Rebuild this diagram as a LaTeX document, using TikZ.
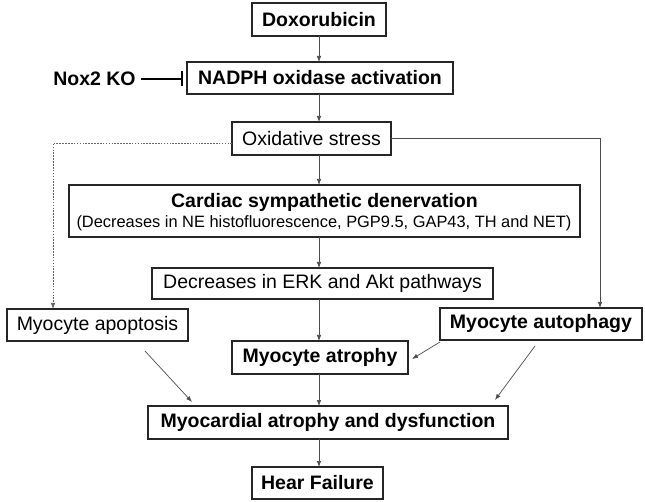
\documentclass[tikz,border=0pt]{standalone}
\usepackage{fontspec}
\setmainfont{Liberation Sans}
\usetikzlibrary{arrows.meta}
\begin{document}
\begin{tikzpicture}[x=1pt,y=-1pt,
  box/.style={draw=black!85,line width=1.2pt,inner sep=0pt,outer sep=0pt},
  bt/.style={font=\fontsize{19.5}{22}\selectfont\bfseries},
  rt/.style={font=\fontsize{19.5}{22}\selectfont},
  st/.style={font=\fontsize{16.4}{19}\selectfont},
  arr/.style={draw=black!70,line width=0.7pt,-{Latex[length=6pt,width=4.5pt]}},
  dotl/.style={draw=black!60,line width=0.7pt,dash pattern=on 1.6pt off 1.3pt,-{Latex[length=6pt,width=4.5pt]}},
  inh/.style={draw=black,line width=1.3pt,-{Bar[width=15pt,line width=1.6pt]}}]
\useasboundingbox (0,0) rectangle (645,502);

\node[box,bt,minimum width=134pt,minimum height=33pt] (dox) at (319,19.5) {Doxorubicin};
\node[box,bt,minimum width=266pt,minimum height=32pt] (nadph) at (320,78) {NADPH oxidase activation};
\node[bt,inner sep=0pt] (nox) at (94.5,79) {Nox2 KO};
\node[box,rt,minimum width=159pt,minimum height=33pt] (ox) at (311.5,138.5) {Oxidative stress};
\node[box,minimum width=511pt,minimum height=52pt] (card) at (324.5,211) {};
\node[bt,inner sep=0pt] (cardt) at (324.5,202) {Cardiac sympathetic denervation};
\node[st,inner sep=0pt] (cards) at (324,223) {(Decreases in NE histofluorescence, PGP9.5, GAP43, TH and NET)};
\node[box,rt,minimum width=341pt,minimum height=31pt] (erk) at (322.5,283.5) {Decreases in ERK and Akt pathways};
\node[box,rt,minimum width=181pt,minimum height=32pt] (apop) at (97.5,325) {Myocyte apoptosis};
\node[box,bt,minimum width=202pt,minimum height=32pt] (auto) at (541,324) {Myocyte autophagy};
\node[box,bt,minimum width=176pt,minimum height=33pt] (atro) at (320,357.5) {Myocyte atrophy};
\node[box,bt,minimum width=360pt,minimum height=33pt] (myo) at (328,422.5) {Myocardial atrophy and dysfunction};
\node[box,bt,minimum width=131pt,minimum height=32pt] (hf) at (317.5,483) {Hear Failure};

\coordinate (vx) at (319,0);
\draw[arr] (vx |- dox.south) -- (vx |- nadph.north);
\draw[arr] (vx |- nadph.south) -- (vx |- ox.north);
\draw[arr] (vx |- ox.south) -- (vx |- card.north);
\draw[arr] (vx |- card.south) -- (vx |- erk.north);
\draw[arr] (vx |- erk.south) -- (vx |- atro.north);
\draw[arr] (vx |- atro.south) -- (vx |- myo.north);
\draw[arr] (vx |- myo.south) -- (vx |- hf.north);

\draw[inh,shorten <=5pt,shorten >=4pt] (nox.east) -- (nox.east -| nadph.west);

\coordinate (dtop) at (53,143);
\draw[dotl] ([yshift=-4.5pt]ox.west) -- (dtop) -- (dtop |- apop.north);
\coordinate (rtop) at (600,138.5);
\draw[arr] (ox.east) -- (rtop) -- (rtop |- auto.north);

\coordinate (a1) at (145,351);
\coordinate (a2) at (192,402);
\draw[arr] (a1) -- (a2);
\coordinate (b1) at (440,342);
\coordinate (b2) at (412,359);
\draw[arr] (b1) -- (b2);
\coordinate (c1) at (535,346);
\coordinate (c2) at (495,400);
\draw[arr] (c1) -- (c2);
\end{tikzpicture}
\end{document}
